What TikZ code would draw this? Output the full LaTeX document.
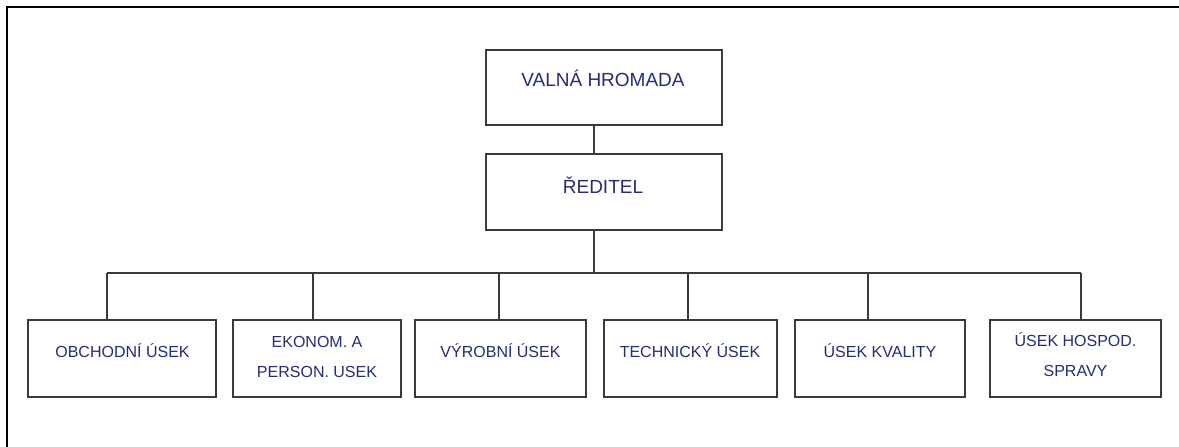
\documentclass[tikz,border=0pt]{standalone}
\usepackage{fontspec}
\setmainfont{Liberation Sans}
\definecolor{navytext}{RGB}{38,44,118}
\definecolor{boxline}{RGB}{58,58,58}
\tikzset{
  orgbox/.style={draw=boxline, line width=1.4pt, fill=white, inner sep=0pt,
                 minimum width=#1, minimum height=77},
  orgbox/.default=170,
  toplbl/.style={anchor=base, text=navytext, font=\fontsize{19}{22}\selectfont, inner sep=0pt},
  lbl/.style={anchor=base, text=navytext, font=\fontsize{16}{30}\selectfont, inner sep=0pt, align=center},
  link/.style={draw=boxline, line width=1.1pt},
  frameline/.style={draw=black, line width=2pt}
}
\begin{document}
\begin{tikzpicture}[x=1pt, y=-1pt]
  \useasboundingbox (0,0) rectangle (1179,447);
  \fill[white] (0,0) rectangle (1179,447);

  % outer frame (top and left edges only)
  \coordinate (fr) at (1179,6.7);
  \coordinate (fc) at (6.7,6.7);
  \coordinate (fb) at (6.7,447);
  \draw[frameline] (fr) -- (fc) -- (fb);

  % upper levels
  \node[orgbox=236, minimum height=75] (vh) at (604,87.5) {};
  \node[toplbl] (vhl) at (603,86.8) {VALNÁ HROMADA};
  \node[orgbox=236, minimum height=76] (red) at (604,192) {};
  \node[toplbl] (redl) at (603,193) {ŘEDITEL};

  % departments
  \node[orgbox=188] (b1) at (122,358.5) {};
  \node[orgbox=168] (b2) at (317,358.5) {};
  \node[orgbox=171] (b3) at (500.5,358.5) {};
  \node[orgbox=173] (b4) at (690.5,358.5) {};
  \node[orgbox=170] (b5) at (880,358.5) {};
  \node[orgbox=171] (b6) at (1075.5,358.5) {};

  % labels are placed by the baseline of their last line
  \node[lbl] (l1) at (122.5,357) {OBCHODNÍ ÚSEK};
  \node[lbl] (l2) at (317,377) {EKONOM. A\\PERSON. USEK};
  \node[lbl] (l3) at (500.5,357) {VÝROBNÍ ÚSEK};
  \node[lbl] (l4) at (690,357) {TECHNICKÝ ÚSEK};
  \node[lbl] (l5) at (880,357) {ÚSEK KVALITY};
  \node[lbl] (l6) at (1075.5,376) {ÚSEK HOSPOD.\\SPRAVY};

  % connectors
  \coordinate (trunk) at (594,273);
  \draw[link] (vh.south -| trunk) -- (red.north -| trunk);
  \draw[link] (red.south -| trunk) -- (trunk);

  \coordinate (s1) at (107,273);
  \coordinate (s2) at (313,273);
  \coordinate (s3) at (499,273);
  \coordinate (s4) at (688,273);
  \coordinate (s5) at (868,273);
  \coordinate (s6) at (1081,273);
  \draw[link] (s1) -- (s6);
  \foreach \s/\b in {s1/b1, s2/b2, s3/b3, s4/b4, s5/b5, s6/b6}
    \draw[link] (\s) -- (\s |- \b.north);
\end{tikzpicture}
\end{document}
